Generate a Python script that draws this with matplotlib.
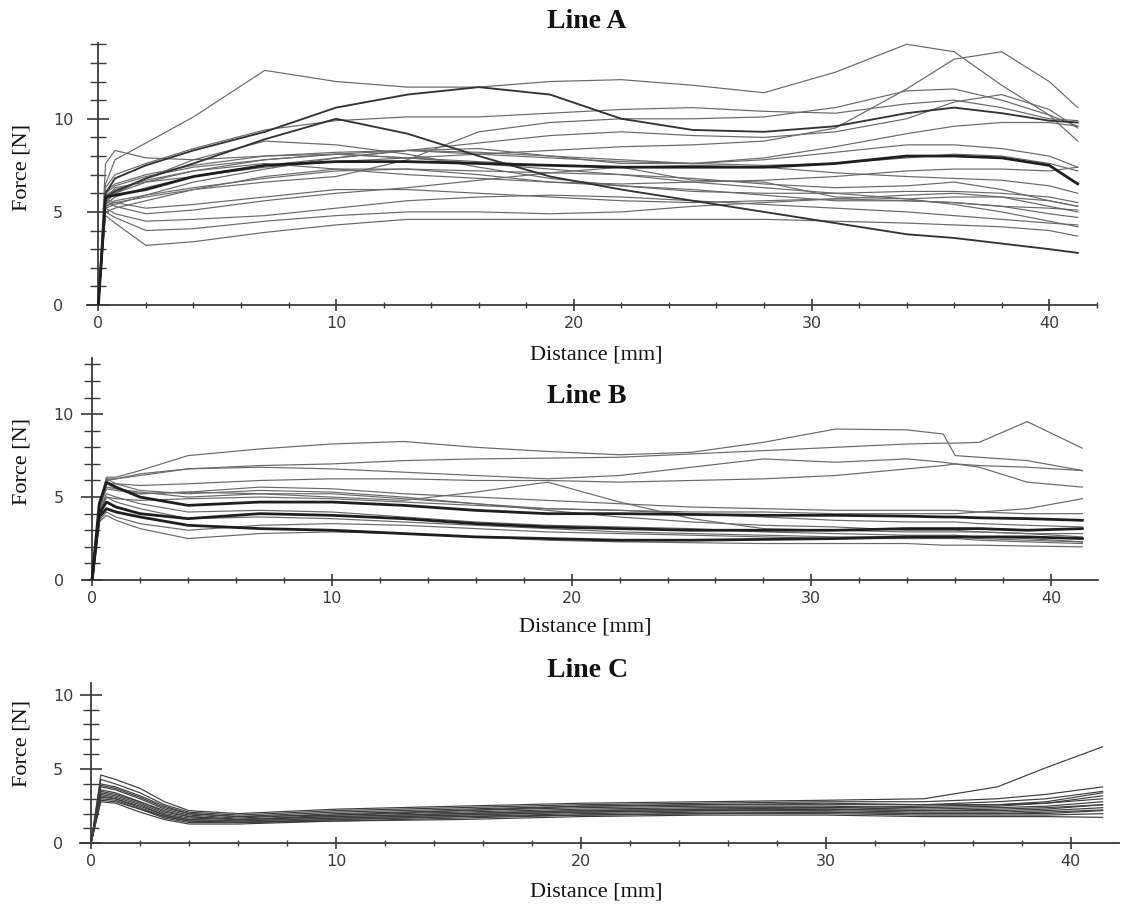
import matplotlib.pyplot as plt
from matplotlib.ticker import MultipleLocator

# ---------------- data (Force [N] vs Distance [mm]) ----------------
# Line A
X_A = [0, 0.3, 0.7, 2, 4, 7, 10, 13, 16, 19, 22, 25, 28, 31, 34, 36, 38, 40, 41.2]
A01 = [0, 6.5, 7.8, 8.7, 10.1, 12.6, 12.0, 11.7, 11.7, 12.0, 12.1, 11.8, 11.4, 12.5, 14.0, 13.6, 11.8, 10.2, 8.8]
A02 = [0, 6.0, 6.8, 7.5, 8.3, 9.3, 10.6, 11.3, 11.7, 11.3, 10.0, 9.4, 9.3, 9.6, 10.3, 10.6, 10.3, 9.9, 9.8]
A03 = [0, 5.6, 6.3, 6.6, 6.9, 7.4, 7.7, 7.9, 8.1, 8.3, 8.5, 8.6, 8.8, 9.5, 11.6, 13.2, 13.6, 12.0, 10.6]
A04 = [0, 6.3, 7.0, 7.6, 8.4, 9.4, 9.9, 10.1, 10.1, 10.3, 10.5, 10.6, 10.4, 10.3, 10.8, 11.0, 10.6, 10.0, 9.9]
A05 = [0, 5.8, 6.1, 6.8, 7.6, 8.9, 10.0, 9.2, 8.0, 6.9, 6.2, 5.6, 5.0, 4.4, 3.8, 3.6, 3.3, 3.0, 2.8]
A06 = [0, 5.3, 5.5, 5.8, 6.2, 6.6, 6.9, 7.8, 9.3, 9.8, 10.0, 10.0, 10.1, 10.6, 11.5, 11.6, 11.0, 10.2, 9.6]
A07 = [0, 5.8, 5.9, 6.2, 6.9, 7.5, 7.7, 7.7, 7.6, 7.5, 7.4, 7.4, 7.4, 7.6, 8.0, 8.0, 7.9, 7.5, 6.5]
A08 = [0, 7.6, 8.3, 7.9, 7.8, 8.0, 8.2, 8.3, 8.1, 7.9, 7.7, 7.6, 7.8, 8.2, 8.6, 8.6, 8.4, 8.0, 7.4]
A09 = [0, 5.5, 6.0, 6.8, 7.8, 8.8, 8.6, 8.1, 7.4, 6.8, 6.4, 6.1, 6.0, 6.0, 6.1, 6.1, 6.0, 5.8, 5.5]
A10 = [0, 5.2, 5.4, 5.9, 6.6, 7.3, 7.9, 8.3, 8.4, 8.0, 7.6, 7.6, 7.9, 8.5, 9.2, 9.6, 9.8, 9.8, 9.6]
A11 = [0, 5.6, 6.0, 6.6, 7.2, 7.6, 7.3, 7.0, 6.8, 6.6, 6.5, 6.6, 6.7, 6.9, 7.2, 7.3, 7.3, 7.2, 7.4]
A12 = [0, 5.0, 5.2, 5.6, 6.2, 6.9, 7.3, 7.3, 7.0, 6.6, 6.4, 6.2, 5.9, 5.6, 5.6, 5.5, 5.3, 4.9, 4.7]
A13 = [0, 5.6, 5.3, 4.9, 5.1, 5.6, 6.0, 6.3, 6.7, 7.1, 7.4, 7.5, 7.4, 7.1, 6.9, 6.8, 6.7, 6.4, 6.0]
A14 = [0, 5.0, 4.7, 4.0, 4.1, 4.5, 4.8, 5.0, 5.0, 4.9, 5.0, 5.3, 5.5, 5.7, 5.6, 5.5, 5.3, 5.2, 5.1]
A15 = [0, 4.8, 4.4, 3.2, 3.4, 3.9, 4.3, 4.6, 4.6, 4.6, 4.6, 4.6, 4.6, 4.5, 4.4, 4.3, 4.2, 4.0, 3.7]
A16 = [0, 5.2, 4.9, 4.5, 4.6, 4.8, 5.2, 5.6, 5.8, 5.9, 5.8, 5.6, 5.4, 5.2, 5.0, 4.8, 4.6, 4.4, 4.3]
A17 = [0, 5.7, 5.5, 5.2, 5.4, 5.8, 6.2, 6.2, 6.0, 5.8, 5.6, 5.5, 5.6, 5.7, 5.9, 6.0, 5.8, 5.3, 5.0]
A18 = [0, 6.1, 6.5, 7.0, 7.5, 8.0, 8.1, 7.9, 7.7, 7.5, 7.4, 6.7, 6.6, 5.8, 5.7, 5.8, 5.8, 5.6, 5.3]
A19 = [0, 6.0, 6.4, 6.9, 7.4, 7.8, 8.1, 8.3, 8.2, 8.0, 7.8, 7.6, 7.5, 7.6, 7.9, 8.1, 8.0, 7.6, 7.2]
A20 = [0, 5.4, 5.8, 6.3, 6.9, 7.5, 7.9, 8.3, 8.7, 9.1, 9.3, 9.1, 9.0, 9.3, 10.0, 10.9, 11.3, 10.5, 9.5]
A21 = [0, 5.9, 6.2, 6.7, 7.2, 7.8, 8.1, 7.9, 7.6, 7.3, 7.0, 6.6, 6.3, 6.0, 5.7, 5.4, 5.0, 4.5, 4.2]
A22 = [0, 5.3, 5.6, 5.9, 6.3, 6.8, 7.2, 7.3, 7.2, 7.1, 7.0, 6.8, 6.5, 6.3, 6.4, 6.6, 6.2, 5.6, 5.3]

# Line B
X_B = [0, 0.3, 0.6, 1, 2, 4, 7, 10, 13, 16, 19, 22, 25, 28, 31, 34, 35.5, 36, 37, 39, 41.3]
B01 = [0, 4.5, 6.2, 6.2, 6.6, 7.5, 7.9, 8.2, 8.35, 8.0, 7.75, 7.55, 7.7, 8.3, 9.1, 9.05, 8.8, 7.5, 7.4, 7.2, 6.6]
B02 = [0, 4.5, 6.0, 6.1, 6.4, 6.7, 6.9, 7.0, 7.2, 7.3, 7.35, 7.4, 7.6, 7.8, 8.0, 8.2, 8.25, 8.25, 8.3, 9.55, 7.95]
B03 = [0, 4.5, 6.1, 6.1, 6.3, 6.7, 6.8, 6.7, 6.5, 6.3, 6.1, 6.3, 6.8, 7.3, 7.1, 7.3, 7.1, 7.0, 6.8, 5.9, 5.6]
B04 = [0, 4.4, 5.8, 5.8, 5.7, 5.8, 6.0, 6.1, 6.1, 6.0, 6.0, 5.9, 6.0, 6.1, 6.3, 6.7, 6.9, 7.0, 6.9, 6.8, 6.6]
B05 = [0, 4.3, 5.5, 5.4, 5.2, 5.3, 5.2, 5.0, 4.8, 5.3, 5.9, 4.7, 3.7, 3.1, 3.0, 2.9, 2.9, 2.9, 2.9, 2.8, 2.6]
B06 = [0, 4.2, 5.0, 4.9, 4.8, 4.9, 5.0, 4.9, 4.7, 4.5, 4.3, 4.2, 4.1, 4.1, 4.0, 4.0, 4.0, 4.0, 4.1, 4.3, 4.9]
B07 = [0, 4.6, 5.9, 5.6, 5.0, 4.5, 4.7, 4.7, 4.5, 4.2, 4.0, 4.0, 3.95, 3.9, 3.9, 3.85, 3.8, 3.8, 3.75, 3.7, 3.6]
B08 = [0, 4.0, 4.7, 4.4, 4.0, 3.7, 4.0, 3.9, 3.7, 3.4, 3.2, 3.1, 3.0, 3.0, 3.0, 3.1, 3.1, 3.1, 3.1, 3.0, 3.1]
B09 = [0, 3.8, 4.3, 4.1, 3.8, 3.3, 3.1, 3.0, 2.8, 2.6, 2.5, 2.4, 2.4, 2.45, 2.5, 2.6, 2.6, 2.6, 2.6, 2.6, 2.5]
B10 = [0, 3.5, 3.9, 3.6, 3.1, 2.5, 2.8, 2.9, 2.8, 2.6, 2.4, 2.3, 2.25, 2.2, 2.2, 2.2, 2.1, 2.1, 2.1, 2.05, 2.0]
B11 = [0, 4.2, 5.2, 5.0, 4.6, 4.1, 4.2, 4.1, 3.8, 3.5, 3.3, 3.2, 3.1, 2.9, 2.8, 2.7, 2.7, 2.7, 2.6, 2.5, 2.3]
B12 = [0, 4.4, 5.6, 5.5, 5.3, 5.0, 5.2, 5.2, 4.9, 4.6, 4.2, 3.8, 3.5, 3.3, 3.2, 3.0, 3.0, 3.0, 2.9, 2.8, 2.8]
B13 = [0, 4.0, 5.0, 4.7, 4.3, 3.7, 3.8, 3.7, 3.5, 3.3, 3.1, 2.9, 2.8, 2.7, 2.6, 2.6, 2.6, 2.6, 2.5, 2.4, 2.3]
B14 = [0, 4.6, 6.1, 5.8, 5.4, 5.2, 5.4, 5.3, 5.0, 4.6, 4.3, 4.2, 4.0, 3.8, 3.6, 3.5, 3.5, 3.5, 3.4, 3.3, 3.2]
B15 = [0, 4.5, 5.8, 5.5, 5.2, 5.3, 5.6, 5.5, 5.2, 5.0, 4.8, 4.6, 4.4, 4.3, 4.2, 4.2, 4.2, 4.2, 4.1, 4.0, 4.0]
B16 = [0, 3.6, 4.1, 3.8, 3.4, 3.0, 3.3, 3.4, 3.3, 3.1, 2.9, 2.8, 2.7, 2.6, 2.5, 2.5, 2.5, 2.5, 2.4, 2.3, 2.2]

# Line C
X_C = [0, 0.4, 1, 2, 3, 4, 6, 10, 15, 20, 25, 30, 34, 37, 39, 41.3]
C01 = [0, 4.6, 4.3, 3.7, 2.8, 2.2, 2.0, 2.3, 2.5, 2.7, 2.8, 2.9, 3.0, 3.8, 5.1, 6.5]
C02 = [0, 4.3, 4.0, 3.4, 2.6, 2.1, 1.9, 2.2, 2.4, 2.6, 2.7, 2.8, 2.8, 3.0, 3.3, 3.8]
C03 = [0, 4.0, 3.8, 3.2, 2.5, 2.0, 1.8, 2.1, 2.3, 2.5, 2.6, 2.6, 2.6, 2.8, 3.0, 3.5]
C04 = [0, 3.8, 3.6, 3.0, 2.3, 1.9, 1.7, 2.0, 2.2, 2.4, 2.5, 2.5, 2.4, 2.5, 2.7, 3.0]
C05 = [0, 3.6, 3.4, 2.8, 2.2, 1.8, 1.6, 1.9, 2.1, 2.3, 2.4, 2.4, 2.3, 2.4, 2.5, 2.8]
C06 = [0, 3.4, 3.2, 2.7, 2.0, 1.7, 1.6, 1.8, 2.0, 2.2, 2.3, 2.3, 2.2, 2.3, 2.4, 2.6]
C07 = [0, 3.3, 3.1, 2.6, 1.9, 1.6, 1.5, 1.7, 1.9, 2.1, 2.2, 2.2, 2.1, 2.1, 2.2, 2.4]
C08 = [0, 3.1, 3.0, 2.4, 1.8, 1.5, 1.4, 1.6, 1.8, 2.0, 2.1, 2.1, 2.0, 2.0, 2.1, 2.25]
C09 = [0, 3.0, 2.9, 2.3, 1.7, 1.4, 1.4, 1.5, 1.7, 1.9, 2.0, 2.0, 1.9, 1.9, 1.9, 2.0]
C10 = [0, 2.8, 2.7, 2.1, 1.6, 1.3, 1.3, 1.5, 1.6, 1.8, 1.9, 1.9, 1.8, 1.8, 1.8, 1.75]
C11 = [0, 3.9, 3.7, 3.1, 2.4, 2.0, 1.8, 1.9, 2.2, 2.5, 2.6, 2.7, 2.6, 2.6, 2.7, 3.2]
C12 = [0, 3.5, 3.3, 2.8, 2.1, 1.8, 1.6, 1.8, 2.0, 2.2, 2.3, 2.4, 2.5, 2.6, 2.8, 3.4]
C13 = [0, 3.2, 3.0, 2.5, 1.9, 1.6, 1.5, 1.7, 1.9, 2.1, 2.2, 2.3, 2.2, 2.2, 2.3, 2.6]
C14 = [0, 2.9, 2.8, 2.3, 1.8, 1.5, 1.4, 1.6, 1.8, 1.9, 2.0, 2.1, 2.0, 2.0, 2.0, 2.2]

CURVES_A = [A01, A02, A03, A04, A05, A06, A07, A08, A09, A10, A11,
            A12, A13, A14, A15, A16, A17, A18, A19, A20, A21, A22]
CURVES_B = [B01, B02, B03, B04, B05, B06, B07, B08, B09, B10, B11, B12, B13, B14, B15, B16]
CURVES_C = [C01, C02, C03, C04, C05, C06, C07, C08, C09, C10, C11, C12, C13, C14]

# drawing weight per curve: 2 = thick dark, 1 = medium, anything else thin
WEIGHT_A = {6: 2, 1: 1, 4: 1}
WEIGHT_B = {6: 2, 7: 2, 8: 2}
WEIGHT_C = {}

SERIF = "Liberation Serif"
AXIS_COL = "#3a3a3a"

fig = plt.figure(figsize=(11.27, 9.07), dpi=100)


def draw_panel(rect, x, curves, weights, xlim, ylim, ylab_pad, thin_color):
    ax = fig.add_axes(rect)
    for i, y in enumerate(curves):
        w = weights.get(i, 0)
        if w == 2:
            ax.plot(x, y, color="#1e1e1e", lw=2.0, zorder=3)
        elif w == 1:
            ax.plot(x, y, color="#333333", lw=1.35, zorder=3)
        else:
            ax.plot(x, y, color=thin_color, lw=0.85, zorder=2)

    ax.set_xlim(*xlim)
    ax.set_ylim(*ylim)
    ax.patch.set_alpha(0)

    # y axis runs through x = 0, x axis along y = 0
    ax.spines["top"].set_visible(False)
    ax.spines["right"].set_visible(False)
    ax.spines["left"].set_position(("data", 0))
    for s in ("left", "bottom"):
        ax.spines[s].set_color(AXIS_COL)
        ax.spines[s].set_linewidth(1.3)

    ax.xaxis.set_major_locator(MultipleLocator(10))
    ax.xaxis.set_minor_locator(MultipleLocator(2))
    ax.yaxis.set_major_locator(MultipleLocator(5))
    ax.yaxis.set_minor_locator(MultipleLocator(1))

    ax.tick_params(axis="x", which="major", direction="inout", length=8.5, width=1.2,
                   color=AXIS_COL, pad=3.5, labelsize=11.5, labelcolor="#3a3a3a")
    ax.tick_params(axis="x", which="minor", direction="inout", length=5, width=1.0,
                   color=AXIS_COL)
    ax.tick_params(axis="y", which="major", direction="inout", length=15.5, width=1.2,
                   color=AXIS_COL, pad=ylab_pad, labelsize=11.5, labelcolor="#3a3a3a")
    ax.tick_params(axis="y", which="minor", direction="inout", length=11.5, width=1.0,
                   color=AXIS_COL)
    for lab in ax.get_yticklabels():
        lab.set_horizontalalignment("left")
    return ax


# Line A
draw_panel([0.0776, 0.6637, 0.8960, 0.2885], X_A, CURVES_A, WEIGHT_A,
           (-0.46, 42.02), (0, 14.05), 25, "#686868")
# Line B
draw_panel([0.0736, 0.3605, 0.9010, 0.2451], X_B, CURVES_B, WEIGHT_B,
           (-0.38, 41.97), (0, 13.4), 20, "#686868")
# Line C
draw_panel([0.0714, 0.0702, 0.9218, 0.1764], X_C, CURVES_C, WEIGHT_C,
           (-0.43, 41.98), (0, 10.77), 19.5, "#3c3c3c")

# panel titles
for ytxt, name in [(0.976, "Line A"), (0.5626, "Line B"), (0.2613, "Line C")]:
    fig.text(0.521, ytxt, name, ha="center", va="center", fontsize=20,
             fontweight="bold", family=SERIF, color="#111111")

# axis labels
for ytxt, xtxt in [(0.6086, 0.529), (0.309, 0.519), (0.0169, 0.529)]:
    fig.text(xtxt, ytxt, "Distance [mm]", ha="center", va="center", fontsize=16,
             family=SERIF, color="#111111")
for ytxt in [0.8148, 0.491, 0.1808]:
    fig.text(0.0195, ytxt, "Force [N]", ha="center", va="center", rotation=90,
             fontsize=16, family=SERIF, color="#111111")

fig.savefig("out.png", dpi=100)
